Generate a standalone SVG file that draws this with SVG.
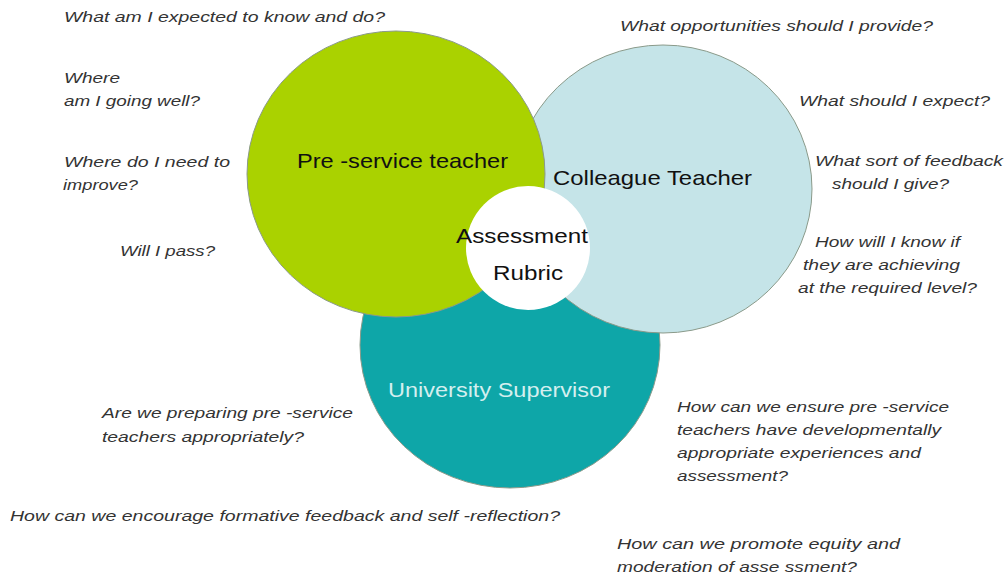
<svg xmlns="http://www.w3.org/2000/svg" width="1006" height="575" viewBox="0 0 1006 575">
<style>
.q{font-family:"Liberation Sans",Arial,sans-serif;font-style:italic;font-size:15px;fill:#333;}
.t{font-family:"Liberation Sans",Arial,sans-serif;font-size:21px;fill:#111;}
.c{stroke:#8a9a8a;stroke-width:1;}
</style>
<rect width="1006" height="575" fill="#fff"/>
<g id="university-supervisor">
<ellipse class="c" cx="510" cy="345" rx="150" ry="143" fill="#0ea6a8"/>
<text class="t" x="388" y="397" textLength="222" lengthAdjust="spacingAndGlyphs" style="fill:#d4efef">University Supervisor</text>
</g>
<g id="colleague-teacher">
<ellipse class="c" cx="663" cy="189" rx="149" ry="144" fill="#c5e4e8"/>
<text class="t" x="553" y="185" textLength="199" lengthAdjust="spacingAndGlyphs">Colleague Teacher</text>
</g>
<g id="pre-service-teacher">
<ellipse class="c" cx="396" cy="174" rx="149" ry="143" fill="#aad200"/>
<text class="t" x="297" y="168" textLength="211" lengthAdjust="spacingAndGlyphs">Pre -service teacher</text>
</g>
<g id="assessment-rubric">
<circle cx="528" cy="248" r="62" fill="#fff"/>
<text class="t" x="456" y="243" textLength="132" lengthAdjust="spacingAndGlyphs">Assessment</text>
<text class="t" x="493" y="280" textLength="70" lengthAdjust="spacingAndGlyphs">Rubric</text>
</g>
<g id="connectors"></g>
<g id="questions">
<text class="q" x="64" y="22" textLength="321" lengthAdjust="spacingAndGlyphs">What am I expected to know and do?</text>
<text class="q" x="64" y="83" textLength="56" lengthAdjust="spacingAndGlyphs">Where</text>
<text class="q" x="64" y="106" textLength="136" lengthAdjust="spacingAndGlyphs">am I going well?</text>
<text class="q" x="64" y="167" textLength="166" lengthAdjust="spacingAndGlyphs">Where do I need to</text>
<text class="q" x="63" y="190" textLength="75" lengthAdjust="spacingAndGlyphs">improve?</text>
<text class="q" x="120" y="256" textLength="95" lengthAdjust="spacingAndGlyphs">Will I pass?</text>
<text class="q" x="620" y="31" textLength="313" lengthAdjust="spacingAndGlyphs">What opportunities should I provide?</text>
<text class="q" x="799" y="106" textLength="191" lengthAdjust="spacingAndGlyphs">What should I expect?</text>
<text class="q" x="815" y="166" textLength="188" lengthAdjust="spacingAndGlyphs">What sort of feedback</text>
<text class="q" x="832" y="189" textLength="117" lengthAdjust="spacingAndGlyphs">should I give?</text>
<text class="q" x="815" y="247" textLength="145" lengthAdjust="spacingAndGlyphs">How will I know if</text>
<text class="q" x="803" y="270" textLength="157" lengthAdjust="spacingAndGlyphs">they are achieving</text>
<text class="q" x="798" y="293" textLength="179" lengthAdjust="spacingAndGlyphs">at the required level?</text>
<text class="q" x="102" y="418" textLength="251" lengthAdjust="spacingAndGlyphs">Are we preparing pre -service</text>
<text class="q" x="102" y="442" textLength="202" lengthAdjust="spacingAndGlyphs">teachers appropriately?</text>
<text class="q" x="10" y="521" textLength="550" lengthAdjust="spacingAndGlyphs">How can we encourage formative feedback and self -reflection?</text>
<text class="q" x="677" y="412" textLength="272" lengthAdjust="spacingAndGlyphs">How can we ensure pre -service</text>
<text class="q" x="677" y="435" textLength="264" lengthAdjust="spacingAndGlyphs">teachers have developmentally</text>
<text class="q" x="677" y="458" textLength="244" lengthAdjust="spacingAndGlyphs">appropriate experiences and</text>
<text class="q" x="677" y="481" textLength="111" lengthAdjust="spacingAndGlyphs">assessment?</text>
<text class="q" x="617" y="549" textLength="283" lengthAdjust="spacingAndGlyphs">How can we promote equity and</text>
<text class="q" x="617" y="572" textLength="240" lengthAdjust="spacingAndGlyphs">moderation of asse ssment?</text>
</g>
</svg>
